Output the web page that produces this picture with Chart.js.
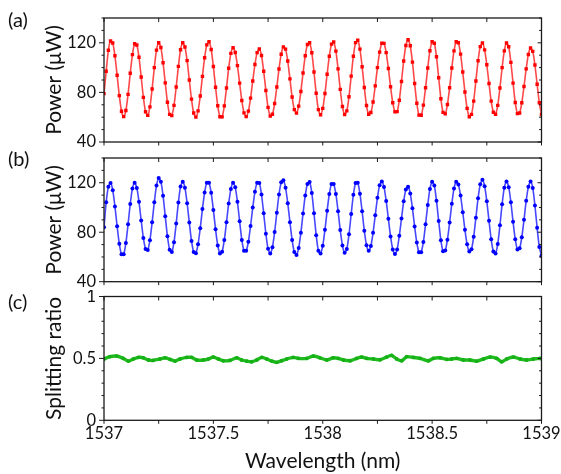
<!DOCTYPE html>
<html>
<head>
<meta charset="utf-8">
<script src="https://cdn.jsdelivr.net/npm/chart.js@4.4.1/dist/chart.umd.min.js"></script>
<style>
  html, body { margin: 0; padding: 0; background: #fff; }
  #wrap { position: relative; width: 561px; height: 474px; overflow: hidden; }
  #wrap canvas { position: absolute; left: 0; }
  .tag { position: absolute; left: 8px; font: 20px Lato, sans-serif; line-height: 20px; color: #111; }
</style>
</head>
<body>
<div id="wrap">
  <canvas id="panelA" width="561" height="150" style="top:0px"></canvas>
  <canvas id="panelB" width="561" height="140" style="top:150px"></canvas>
  <canvas id="panelC" width="561" height="184" style="top:290px"></canvas>
  <div class="tag" style="top:9px">(a)</div>
  <div class="tag" style="top:148px">(b)</div>
  <div class="tag" style="top:291px">(c)</div>
</div>
<script>
// Wavelength sweep: 1537 nm to 1539 nm in 0.01 nm steps
const wavelengthStart = 1537;
const wavelengthStep = 0.01;

// Output power of port A (µW)
const powerA = [
  79, 97, 114, 121.5, 119.8, 109.5, 93.8, 77.4, 64.8, 60.5,
  65.4, 78.4, 95.4, 110.5, 119.2, 118.2, 108.3, 92.4, 76, 64.4,
  61.5, 68.3, 82.8, 100, 114.1, 120, 116.2, 103.9, 87.7, 72.1,
  62.3, 61.3, 69.5, 84.3, 101, 114.4, 120, 116.6, 105.6, 90,
  74.6, 63.4, 60.1, 65.1, 77.1, 92.9, 108, 118.3, 120.8, 114.6,
  100.9, 84.2, 69.2, 60.4, 60.3, 69.1, 83.6, 99.5, 111.5, 116,
  112.2, 101.6, 87.5, 73.5, 63.5, 60.5, 64.9, 75.4, 89.2, 102.5,
  112.1, 115, 109.7, 97, 81.5, 67.9, 60.9, 62.4, 71, 84.3,
  98.9, 110.8, 116.7, 114.9, 105.3, 90.9, 76.3, 66.1, 63.3, 68.9,
  80.7, 95.7, 109.6, 118.6, 120, 112, 96.5, 79.3, 66.1, 62,
  67.1, 79.1, 94.6, 109.2, 118.9, 120.6, 113.3, 99, 82.4, 68.6,
  62.2, 65.1, 76.5, 93.1, 109.2, 120.1, 122.1, 114.9, 100.7, 83.9,
  69.4, 62.4, 63.8, 72.3, 85.3, 100, 112.5, 119.6, 119.5, 112.1,
  99.3, 84.5, 71.7, 64.3, 64.5, 73.7, 88.8, 105.3, 117.8, 122.5,
  117.6, 104.4, 87.2, 71.3, 61.7, 61.6, 69.7, 83.7, 99.7, 113.6,
  120.8, 119.6, 108.7, 91.8, 74.9, 63.9, 62.7, 70.2, 83.8, 99.7,
  113.5, 120.8, 120, 110.9, 96.4, 80.3, 67.1, 60.4, 62.3, 73,
  89.2, 105.5, 116.9, 119.8, 114.3, 102.3, 87.2, 73, 64, 62.4,
  69.5, 83.6, 100, 113.5, 119.8, 116.8, 104.2, 87.5, 71.9, 62.9,
  63.4, 71.6, 84.7, 99, 110.6, 115.8, 113.1, 102.1, 86.6, 71.6,
  62.2
];

// Output power of port B (µW)
const powerB = [
  84, 104.2, 116.7, 119.8, 113.9, 100.8, 84.8, 70.6, 62.1, 62.2,
  71.3, 86.4, 102.9, 115.3, 120, 115.8, 104.6, 89.4, 75.4, 66.5,
  65.7, 73.6, 88, 104.2, 117.7, 123.8, 120.9, 109.5, 92.9, 76.8,
  65.9, 64, 71.9, 87.1, 104, 117, 120.9, 115.9, 103.5, 87.8,
  73, 64.1, 63.1, 70.3, 83.3, 98.7, 112.2, 120, 119.9, 111.9,
  98, 82.3, 69.3, 62.7, 64.3, 73.7, 88.1, 103.3, 114.9, 120,
  116.3, 104.6, 88.8, 73.8, 65.1, 65, 72.3, 85.1, 99.9, 112.7,
  120, 119.8, 110.5, 95.3, 78.8, 66.7, 62.8, 67.9, 80.1, 95.8,
  110.5, 120.3, 122, 115.9, 103.5, 88.1, 73.7, 64.1, 61.6, 67.3,
  79.6, 95.2, 109.7, 119, 120.5, 111.8, 95.3, 77.6, 65.1, 62.7,
  69.1, 81.9, 97.3, 110.9, 119, 118.9, 110.9, 97, 81.7, 69.2,
  63.5, 66.4, 78.3, 94.7, 110.3, 119.7, 119.9, 111.2, 96.9, 81.2,
  69.5, 65, 68.8, 79.6, 93.7, 107.8, 117.9, 121, 116.5, 105.3,
  90.9, 76.6, 66.1, 62.3, 66.1, 77.1, 91.1, 105, 114.5, 116.8,
  111.4, 99.4, 84.7, 71.6, 63.8, 63.9, 72.1, 86.4, 102.1, 115,
  120.8, 117.8, 105.4, 89, 73.5, 64.7, 65.3, 74, 87.8, 103,
  115.3, 120.8, 118.6, 109.6, 96.2, 81.9, 70.2, 64.4, 66.3, 76.3,
  91.6, 107.4, 118.7, 122.4, 117.2, 105, 89.2, 74.3, 64.4, 62.8,
  70.5, 85.6, 102.7, 116, 121, 116.4, 104.3, 88.4, 74.3, 66.1,
  67, 75.9, 90, 105.4, 116.7, 121, 115.8, 101.5, 83.6, 68.1,
  60.9
];

// Splitting ratio readings (wavelength in nm, ratio)
const ratioWavelength = [
  1537.000, 1537.027, 1537.058, 1537.088, 1537.111, 1537.134, 1537.157, 1537.180, 1537.203, 1537.225,
  1537.256, 1537.279, 1537.302, 1537.325, 1537.347, 1537.378, 1537.401, 1537.424, 1537.454, 1537.477,
  1537.500, 1537.523, 1537.545, 1537.576, 1537.607, 1537.629, 1537.652, 1537.675, 1537.698, 1537.721,
  1537.744, 1537.767, 1537.789, 1537.812, 1537.835, 1537.865, 1537.888, 1537.927, 1537.957, 1537.987,
  1538.018, 1538.048, 1538.071, 1538.094, 1538.125, 1538.155, 1538.178, 1538.201, 1538.231, 1538.262,
  1538.292, 1538.315, 1538.338, 1538.361, 1538.384, 1538.414, 1538.445, 1538.483, 1538.505, 1538.536,
  1538.567, 1538.589, 1538.612, 1538.643, 1538.673, 1538.704, 1538.734, 1538.765, 1538.795, 1538.818,
  1538.841, 1538.871, 1538.902, 1538.932, 1538.963, 1538.993, 1539.000
];
const ratio = [
  0.495, 0.514, 0.519, 0.500, 0.478, 0.495, 0.508, 0.505, 0.487, 0.484,
  0.495, 0.505, 0.492, 0.478, 0.495, 0.508, 0.508, 0.487, 0.487, 0.495,
  0.511, 0.495, 0.481, 0.484, 0.505, 0.487, 0.478, 0.473, 0.487, 0.508,
  0.495, 0.478, 0.468, 0.481, 0.495, 0.508, 0.500, 0.500, 0.519, 0.505,
  0.487, 0.505, 0.500, 0.487, 0.481, 0.500, 0.511, 0.500, 0.495, 0.489,
  0.511, 0.524, 0.495, 0.481, 0.514, 0.508, 0.500, 0.481, 0.500, 0.505,
  0.492, 0.495, 0.500, 0.487, 0.487, 0.478, 0.495, 0.511, 0.500, 0.473,
  0.495, 0.511, 0.495, 0.487, 0.495, 0.500, 0.498
];

// Axis ticks
const xTickValues = [1537, 1537.5, 1538, 1538.5, 1539];
const xTickLabels = ['1537', '1537.5', '1538', '1538.5', '1539'];
const powerTickValues = [40, 80, 120];
const powerTickLabels = ['40', '80', '120'];
const ratioTickValues = [0, 0.5, 1];
const ratioTickLabels = ['0', '0.5', '1'];

const FONT = 'Lato, "Open Sans", sans-serif';
const INK = '#111';

// Box frame with minor/major tick marks on all four sides
const frameTicks = {
  id: 'frameTicks',
  afterDatasetsDraw(chart, args, opts) {
    const { ctx, chartArea: a, scales: { x, y } } = chart;
    ctx.save();
    ctx.strokeStyle = '#1a1a1a';
    ctx.lineWidth = 1;
    ctx.beginPath();
    for (let k = 0; x.min + k * opts.xStep <= x.max + 1e-9; k++) {
      const px = x.getPixelForValue(x.min + k * opts.xStep);
      ctx.moveTo(px, a.bottom); ctx.lineTo(px, a.bottom + 3.5);
      ctx.moveTo(px, a.top); ctx.lineTo(px, a.top + 4);
    }
    for (let k = 0; y.min + k * opts.yStep <= y.max + 1e-9; k++) {
      const v = y.min + k * opts.yStep;
      const py = y.getPixelForValue(v);
      const major = opts.yMajor.some(m => Math.abs(m - v) < 1e-6);
      ctx.moveTo(a.left - (major ? 5 : 2.5), py); ctx.lineTo(a.left, py);
      ctx.moveTo(a.right, py); ctx.lineTo(a.right - (major ? 4 : 2.5), py);
    }
    ctx.stroke();
    ctx.lineWidth = 1.3;
    ctx.strokeRect(a.left, a.top, a.right - a.left, a.bottom - a.top);
    ctx.restore();
  }
};

function makePanel(canvasId, p) {
  return new Chart(document.getElementById(canvasId), {
    type: 'line',
    data: { datasets: [p.dataset] },
    plugins: [frameTicks],
    options: {
      responsive: false,
      animation: false,
      events: [],
      layout: { padding: { top: p.padTop, right: 19.5, left: 0, bottom: 0 } },
      plugins: {
        legend: { display: false },
        tooltip: { enabled: false },
        frameTicks: { xStep: 0.25, yStep: p.yStep, yMajor: p.yTicks }
      },
      scales: {
        x: {
          type: 'linear',
          min: 1537,
          max: 1539,
          grid: { display: false, drawTicks: true, tickLength: 3.5 },
          border: { display: false },
          afterBuildTicks: s => { s.ticks = xTickValues.map(v => ({ value: v })); },
          afterFit: s => { s.height = p.xHeight; s.paddingLeft = 0; s.paddingRight = 0; },
          ticks: {
            display: p.showX,
            autoSkip: false,
            maxRotation: 0,
            minRotation: 0,
            padding: 0,
            color: INK,
            font: { family: FONT, size: 16.5 },
            callback: (v, i) => xTickLabels[i]
          },
          title: {
            display: p.showX,
            text: 'Wavelength (nm)',
            color: INK,
            font: { family: FONT, size: 21 },
            padding: { top: 0, bottom: 0 }
          }
        },
        y: {
          type: 'linear',
          min: p.yMin,
          max: p.yMax,
          grid: { display: false, drawTicks: true, tickLength: 5 },
          border: { display: false },
          afterBuildTicks: s => { s.ticks = p.yTicks.map(v => ({ value: v })); },
          afterFit: s => { s.width = 104; s.paddingTop = 0; s.paddingBottom = 0; },
          ticks: {
            padding: 3,
            color: INK,
            font: { family: FONT, size: 16.5 },
            callback: (v, i) => p.yLabels[i]
          },
          title: {
            display: true,
            text: p.yTitle,
            color: INK,
            font: { family: FONT, size: 21 },
            padding: { top: 42, bottom: 0 }
          }
        }
      }
    }
  });
}

const sweep = values => values.map((v, i) => ({ x: wavelengthStart + i * wavelengthStep, y: v }));

makePanel('panelA', {
  padTop: 18, xHeight: 8, showX: false,
  yMin: 40, yMax: 140, yStep: 10, yTicks: powerTickValues, yLabels: powerTickLabels,
  yTitle: 'Power (μW)',
  dataset: {
    data: sweep(powerA),
    borderColor: 'rgba(255, 25, 25, 0.8)',
    borderWidth: 1.6,
    pointStyle: 'rect',
    pointRadius: 2.4,
    pointBorderWidth: 0,
    pointBackgroundColor: '#ff0000',
    tension: 0.25
  }
});

makePanel('panelB', {
  padTop: 8, xHeight: 8.3, showX: false,
  yMin: 40, yMax: 140, yStep: 10, yTicks: powerTickValues, yLabels: powerTickLabels,
  yTitle: 'Power (μW)',
  dataset: {
    data: sweep(powerB),
    borderColor: 'rgba(25, 25, 255, 0.8)',
    borderWidth: 1.6,
    pointStyle: 'circle',
    pointRadius: 2,
    pointBorderWidth: 0,
    pointBackgroundColor: '#0000ff',
    tension: 0.25
  }
});

makePanel('panelC', {
  padTop: 6.5, xHeight: 53.7, showX: true,
  yMin: 0, yMax: 1, yStep: 0.1, yTicks: ratioTickValues, yLabels: ratioTickLabels,
  yTitle: 'Splitting ratio',
  dataset: {
    data: ratioWavelength.map((w, i) => ({ x: w, y: ratio[i] })),
    borderColor: '#1fbb1f',
    borderWidth: 3.4,
    pointStyle: 'circle',
    pointRadius: 1.9,
    pointBorderWidth: 0,
    pointBackgroundColor: '#16b016',
    tension: 0.2
  }
});
</script>
</body>
</html>
